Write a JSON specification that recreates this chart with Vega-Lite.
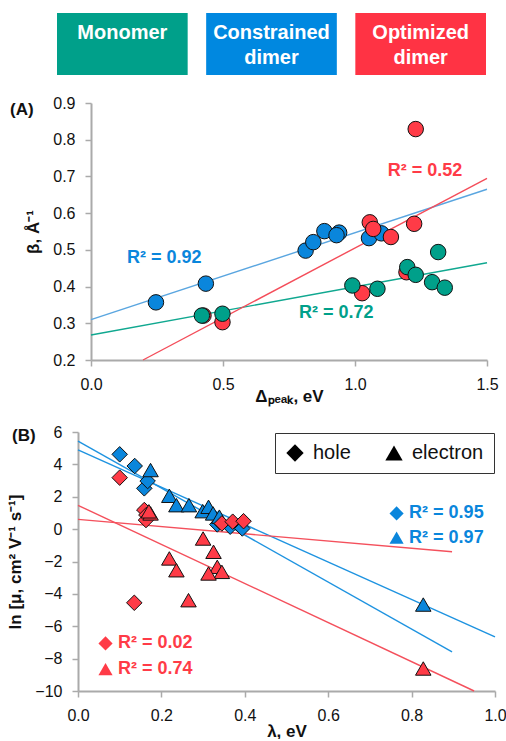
{
  "$schema": "https://vega.github.io/schema/vega-lite/v6.json",
  "padding": {"left": 6, "top": 13, "right": 0, "bottom": 0},
  "autosize": {"type": "pad"},
  "config": {
    "font": "Liberation Sans",
    "view": {"stroke": null},
    "axis": {
      "grid": false,
      "domainColor": "#aaaaaa",
      "domainWidth": 2,
      "tickColor": "#aaaaaa",
      "tickWidth": 1.5,
      "tickSize": 6,
      "labelFontSize": 16,
      "labelColor": "#111111",
      "labelPadding": 10,
      "labelOverlap": false,
      "labelFlush": false,
      "labelBound": false,
      "titleFontSize": 17,
      "titleFontWeight": "bold",
      "titleColor": "#111111"
    }
  },
  "columns": 1,
  "align": "each",
  "spacing": 20,
  "resolve": {"scale": {"shape": "independent", "fill": "independent", "stroke": "independent", "color": "independent"},
              "legend": {"shape": "independent"}},
  "concat": [
    {
      "width": 409,
      "height": 62,
      "data": {"values": [
        {"system": "Monomer"},
        {"system": "Constrained dimer"},
        {"system": "Optimized dimer"}
      ]},
      "encoding": {
        "x": {"field": "system", "type": "nominal", "sort": null, "axis": null,
              "scale": {"range": [-21, 408], "paddingInner": 0.124, "paddingOuter": 0}}
      },
      "layer": [
        {
          "mark": {"type": "rect"},
          "encoding": {
            "color": {"field": "system", "type": "nominal", "legend": null,
                      "scale": {"domain": ["Monomer", "Constrained dimer", "Optimized dimer"],
                                "range": ["#00a08a", "#0088e0", "#ff3344"]}}
          }
        },
        {
          "mark": {"type": "text", "color": "white", "fontWeight": "bold", "fontSize": 20,
                   "baseline": "top", "lineBreak": " ", "lineHeight": 25, "dy": -21},
          "encoding": {"text": {"field": "system"}}
        }
      ]
    },
    {
      "width": 409,
      "height": 257,
      "title": {"text": "(A)", "anchor": "start", "frame": "group", "dx": -68, "dy": 24,
                "offset": 0, "fontSize": 17, "fontWeight": "bold", "color": "#111111"},
      "layer": [
        {
          "data": {"values": [
            {"system": "Monomer", "x": 0, "y": 0.268},
            {"system": "Monomer", "x": 1.5, "y": 0.465},
            {"system": "Constrained dimer", "x": 0, "y": 0.31},
            {"system": "Constrained dimer", "x": 1.5, "y": 0.665},
            {"system": "Optimized dimer", "x": 0.197, "y": 0.2},
            {"system": "Optimized dimer", "x": 1.5, "y": 0.695}
          ]},
          "mark": {"type": "line", "strokeWidth": 1.4},
          "encoding": {
            "x": {"field": "x", "type": "quantitative",
                  "scale": {"domain": [0, 1.5], "range": [13, 409], "nice": false, "zero": false},
                  "axis": {"values": [0, 0.5, 1, 1.5], "tickCount": 20, "format": ".1f", "title": "Δₚₑₐₖ, eV", "titlePadding": -4}},
            "y": {"field": "y", "type": "quantitative",
                  "scale": {"domain": [0.2, 0.9], "nice": false, "zero": false},
                  "axis": {"values": [0.2, 0.3, 0.4, 0.5, 0.6, 0.7, 0.8, 0.9], "tickCount": 20, "format": ".1f",
                           "title": "β, Å⁻¹", "offset": -13, "titlePadding": 10}},
            "stroke": {"field": "system", "type": "nominal", "legend": null,
                       "scale": {"domain": ["Monomer", "Constrained dimer", "Optimized dimer"],
                                 "range": ["#10a890", "#5aa6e0", "#f44d5a"]}}
          }
        },
        {
          "data": {"values": [
            {"system": "Constrained dimer", "x": 0.246, "y": 0.357},
            {"system": "Constrained dimer", "x": 0.435, "y": 0.408},
            {"system": "Constrained dimer", "x": 0.813, "y": 0.498},
            {"system": "Constrained dimer", "x": 0.842, "y": 0.521},
            {"system": "Constrained dimer", "x": 0.884, "y": 0.551},
            {"system": "Constrained dimer", "x": 0.94, "y": 0.547},
            {"system": "Constrained dimer", "x": 0.93, "y": 0.54},
            {"system": "Constrained dimer", "x": 1.07, "y": 0.55},
            {"system": "Constrained dimer", "x": 1.053, "y": 0.532},
            {"system": "Constrained dimer", "x": 1.1, "y": 0.545},
            {"system": "Optimized dimer", "x": 0.426, "y": 0.321},
            {"system": "Optimized dimer", "x": 0.498, "y": 0.303},
            {"system": "Optimized dimer", "x": 1.027, "y": 0.382},
            {"system": "Optimized dimer", "x": 1.195, "y": 0.439},
            {"system": "Optimized dimer", "x": 1.056, "y": 0.575},
            {"system": "Optimized dimer", "x": 1.069, "y": 0.557},
            {"system": "Optimized dimer", "x": 1.136, "y": 0.535},
            {"system": "Optimized dimer", "x": 1.224, "y": 0.571},
            {"system": "Optimized dimer", "x": 1.23, "y": 0.829},
            {"system": "Monomer", "x": 0.42, "y": 0.321},
            {"system": "Monomer", "x": 0.498, "y": 0.326},
            {"system": "Monomer", "x": 0.99, "y": 0.403},
            {"system": "Monomer", "x": 1.085, "y": 0.394},
            {"system": "Monomer", "x": 1.198, "y": 0.453},
            {"system": "Monomer", "x": 1.23, "y": 0.432},
            {"system": "Monomer", "x": 1.292, "y": 0.412},
            {"system": "Monomer", "x": 1.315, "y": 0.494},
            {"system": "Monomer", "x": 1.34, "y": 0.397}
          ]},
          "mark": {"type": "point", "shape": "circle", "filled": true, "size": 240,
                   "stroke": "#111111", "strokeWidth": 1, "opacity": 1},
          "encoding": {
            "x": {"field": "x", "type": "quantitative"},
            "y": {"field": "y", "type": "quantitative"},
            "fill": {"field": "system", "type": "nominal", "legend": null,
                     "scale": {"domain": ["Monomer", "Constrained dimer", "Optimized dimer"],
                               "range": ["#00a08a", "#0a86dc", "#ff3b47"]}}
          }
        },
        {
          "data": {"values": [
            {"system": "Constrained dimer", "x": 0.136, "y": 0.479, "label": "R² = 0.92"},
            {"system": "Optimized dimer", "x": 1.124, "y": 0.716, "label": "R² = 0.52"},
            {"system": "Monomer", "x": 0.788, "y": 0.328, "label": "R² = 0.72"}
          ]},
          "mark": {"type": "text", "align": "left", "baseline": "middle", "fontSize": 18, "fontWeight": "bold"},
          "encoding": {
            "x": {"field": "x", "type": "quantitative"},
            "y": {"field": "y", "type": "quantitative"},
            "text": {"field": "label"},
            "fill": {"field": "system", "type": "nominal", "legend": null}
          }
        }
      ]
    },
    {
      "width": 417,
      "height": 259,
      "title": {"text": "(B)", "anchor": "start", "frame": "group", "dx": -66, "dy": 20.5,
                "offset": 0, "fontSize": 17, "fontWeight": "bold", "color": "#111111"},
      "layer": [
        {
          "data": {"values": [
            {"system": "Constrained dimer", "carrier": "hole", "x": 0, "y": 5.44},
            {"system": "Constrained dimer", "carrier": "hole", "x": 0.897, "y": -7.58},
            {"system": "Constrained dimer", "carrier": "electron", "x": 0, "y": 4.9},
            {"system": "Constrained dimer", "carrier": "electron", "x": 1.0, "y": -6.65},
            {"system": "Optimized dimer", "carrier": "hole", "x": 0, "y": 0.6},
            {"system": "Optimized dimer", "carrier": "hole", "x": 0.897, "y": -1.4},
            {"system": "Optimized dimer", "carrier": "electron", "x": 0, "y": 1.47},
            {"system": "Optimized dimer", "carrier": "electron", "x": 0.95, "y": -10.0}
          ]},
          "mark": {"type": "line", "strokeWidth": 1.4},
          "encoding": {
            "x": {"field": "x", "type": "quantitative",
                  "scale": {"domain": [0, 1], "nice": false},
                  "axis": {"values": [0, 0.2, 0.4, 0.6, 0.8, 1.0], "tickCount": 20, "format": ".1f", "title": "λ, eV", "titlePadding": 0}},
            "y": {"field": "y", "type": "quantitative",
                  "scale": {"domain": [-10, 6], "nice": false},
                  "axis": {"values": [-10, -8, -6, -4, -2, 0, 2, 4, 6], "tickCount": 20, "title": "ln [μ, cm² V⁻¹ s⁻¹]", "titlePadding": 10}},
            "detail": {"field": "carrier"},
            "stroke": {"field": "system", "type": "nominal", "legend": null,
                       "scale": {"domain": ["Constrained dimer", "Optimized dimer"],
                                 "range": ["#1e93e0", "#f4505c"]}}
          }
        },
        {
          "data": {"values": [
            {"system": "Constrained dimer", "carrier": "hole", "x": 0.1, "y": 4.62},
            {"system": "Constrained dimer", "carrier": "hole", "x": 0.136, "y": 3.9},
            {"system": "Constrained dimer", "carrier": "hole", "x": 0.159, "y": 2.52},
            {"system": "Constrained dimer", "carrier": "hole", "x": 0.167, "y": 2.97},
            {"system": "Constrained dimer", "carrier": "hole", "x": 0.334, "y": 0.29},
            {"system": "Constrained dimer", "carrier": "hole", "x": 0.34, "y": 0.45},
            {"system": "Constrained dimer", "carrier": "hole", "x": 0.365, "y": 0.15},
            {"system": "Constrained dimer", "carrier": "hole", "x": 0.394, "y": 0.04},
            {"system": "Constrained dimer", "carrier": "electron", "x": 0.174, "y": 3.65},
            {"system": "Constrained dimer", "carrier": "electron", "x": 0.219, "y": 2.06},
            {"system": "Constrained dimer", "carrier": "electron", "x": 0.236, "y": 1.48},
            {"system": "Constrained dimer", "carrier": "electron", "x": 0.266, "y": 1.48},
            {"system": "Constrained dimer", "carrier": "electron", "x": 0.299, "y": 1.11},
            {"system": "Constrained dimer", "carrier": "electron", "x": 0.313, "y": 1.38},
            {"system": "Constrained dimer", "carrier": "electron", "x": 0.324, "y": 0.97},
            {"system": "Constrained dimer", "carrier": "electron", "x": 0.339, "y": 0.77},
            {"system": "Constrained dimer", "carrier": "electron", "x": 0.828, "y": -4.66},
            {"system": "Optimized dimer", "carrier": "hole", "x": 0.1, "y": 3.18},
            {"system": "Optimized dimer", "carrier": "hole", "x": 0.135, "y": -4.55},
            {"system": "Optimized dimer", "carrier": "hole", "x": 0.159, "y": 1.18},
            {"system": "Optimized dimer", "carrier": "hole", "x": 0.164, "y": 0.87},
            {"system": "Optimized dimer", "carrier": "hole", "x": 0.163, "y": 0.56},
            {"system": "Optimized dimer", "carrier": "electron", "x": 0.174, "y": 0.97},
            {"system": "Optimized dimer", "carrier": "electron", "x": 0.17, "y": 1.1},
            {"system": "Optimized dimer", "carrier": "electron", "x": 0.3, "y": -0.58},
            {"system": "Optimized dimer", "carrier": "electron", "x": 0.325, "y": -1.4},
            {"system": "Optimized dimer", "carrier": "electron", "x": 0.219, "y": -1.81},
            {"system": "Optimized dimer", "carrier": "electron", "x": 0.236, "y": -2.54},
            {"system": "Optimized dimer", "carrier": "electron", "x": 0.334, "y": -2.33},
            {"system": "Optimized dimer", "carrier": "electron", "x": 0.345, "y": -2.64},
            {"system": "Optimized dimer", "carrier": "electron", "x": 0.313, "y": -2.74},
            {"system": "Optimized dimer", "carrier": "electron", "x": 0.265, "y": -4.39},
            {"system": "Optimized dimer", "carrier": "electron", "x": 0.828, "y": -8.61},
            {"system": "Optimized dimer", "carrier": "hole", "x": 0.345, "y": 0.35},
            {"system": "Optimized dimer", "carrier": "hole", "x": 0.371, "y": 0.46},
            {"system": "Optimized dimer", "carrier": "hole", "x": 0.397, "y": 0.49}
          ]},
          "mark": {"type": "point", "filled": true, "size": 240, "stroke": "#111111", "strokeWidth": 1, "opacity": 1},
          "encoding": {
            "x": {"field": "x", "type": "quantitative"},
            "y": {"field": "y", "type": "quantitative"},
            "shape": {"field": "carrier", "type": "nominal",
                      "scale": {"domain": ["hole", "electron"], "range": ["diamond", "triangle-up"]},
                      "legend": {"title": null, "orient": "top-right", "direction": "horizontal", "offset": 1,
                                 "strokeColor": "#333333", "fillColor": "white", "padding": 10,
                                 "labelFontSize": 20, "labelColor": "#111111", "symbolSize": 300,
                                 "symbolFillColor": "#000000", "symbolStrokeColor": "#000000",
                                 "symbolStrokeWidth": 0, "columnPadding": 33, "labelOffset": 8}},
            "fill": {"field": "system", "type": "nominal", "legend": null,
                     "scale": {"domain": ["Constrained dimer", "Optimized dimer"],
                               "range": ["#0a86dc", "#ff3b47"]}}
          }
        },
        {
          "data": {"values": [
            {"system": "Constrained dimer", "carrier": "hole", "x": 0.764, "y": 0.97},
            {"system": "Constrained dimer", "carrier": "electron", "x": 0.764, "y": -0.53},
            {"system": "Optimized dimer", "carrier": "hole", "x": 0.066, "y": -7.06},
            {"system": "Optimized dimer", "carrier": "electron", "x": 0.066, "y": -8.65}
          ]},
          "mark": {"type": "point", "filled": true, "size": 200, "opacity": 1},
          "encoding": {
            "x": {"field": "x", "type": "quantitative"},
            "y": {"field": "y", "type": "quantitative"},
            "shape": {"field": "carrier", "type": "nominal"},
            "fill": {"field": "system", "type": "nominal", "legend": null}
          }
        },
        {
          "data": {"values": [
            {"system": "Constrained dimer", "x": 0.794, "y": 0.97, "label": "R² = 0.95"},
            {"system": "Constrained dimer", "x": 0.794, "y": -0.53, "label": "R² = 0.97"},
            {"system": "Optimized dimer", "x": 0.096, "y": -7.06, "label": "R² = 0.02"},
            {"system": "Optimized dimer", "x": 0.096, "y": -8.65, "label": "R² = 0.74"}
          ]},
          "mark": {"type": "text", "align": "left", "baseline": "middle", "fontSize": 18, "fontWeight": "bold"},
          "encoding": {
            "x": {"field": "x", "type": "quantitative"},
            "y": {"field": "y", "type": "quantitative"},
            "text": {"field": "label"},
            "fill": {"field": "system", "type": "nominal", "legend": null}
          }
        }
      ]
    }
  ]
}
